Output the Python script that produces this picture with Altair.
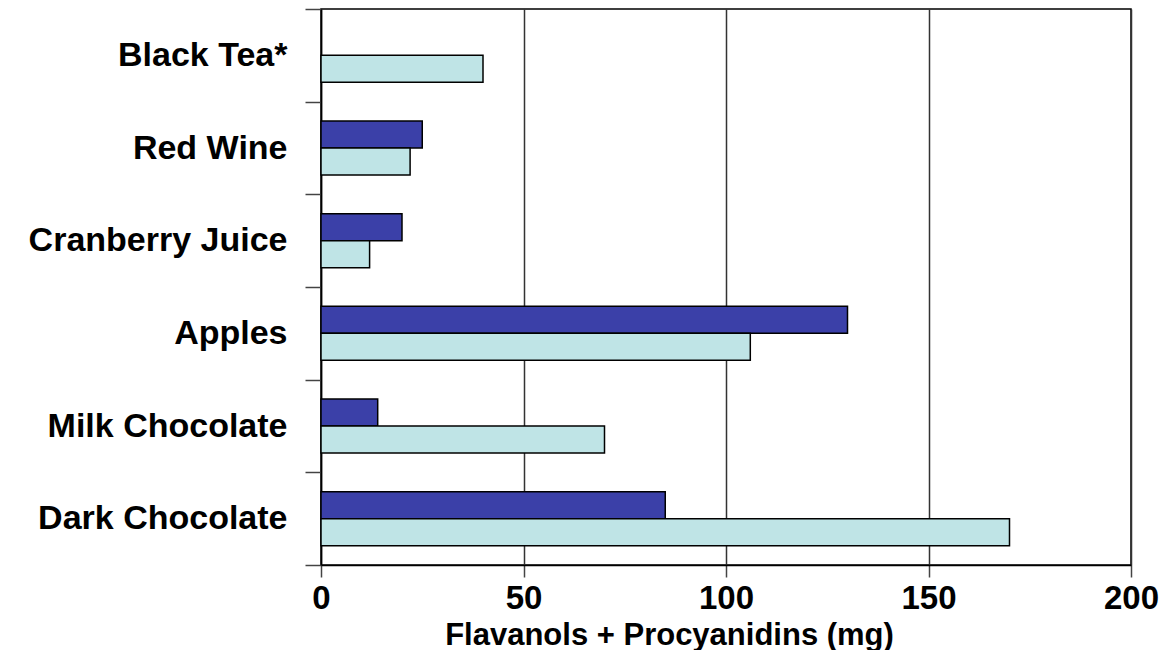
import altair as alt
import pandas as pd

foods = ["Black Tea*", "Red Wine", "Cranberry Juice", "Apples", "Milk Chocolate", "Dark Chocolate"]
series_names = ["Series 1", "Series 2"]
series_1 = [None, 25, 20, 130, 14, 85]
series_2 = [40, 22, 12, 106, 70, 170]
x_ticks = [0, 50, 100, 150, 200]

rows = []
for f, a, b in zip(foods, series_1, series_2):
    if a is not None:
        rows.append({"food": f, "series": series_names[0], "value": a})
    if b is not None:
        rows.append({"food": f, "series": series_names[1], "value": b})
df = pd.DataFrame(rows)

FONT = "Liberation Sans"
W, H = 810, 556

chart = alt.Chart(df).mark_bar(stroke="black", strokeWidth=1.5).encode(
    y=alt.Y(
        "food:N",
        sort=foods,
        scale=alt.Scale(paddingInner=0, paddingOuter=0),
        axis=alt.Axis(
            title=None,
            tickBand="extent",
            tickSize=16,
            tickColor="#444",
            tickWidth=1.5,
            labelPadding=18,
            labelFontSize=34,
            labelFont=FONT,
            labelFontWeight="bold",
            labelColor="black",
            labelLimit=400,
            domainColor="black",
            domainWidth=1.5,
            grid=False,
        ),
    ),
    x=alt.X(
        "value:Q",
        scale=alt.Scale(domain=[0, 200], nice=False),
        axis=alt.Axis(
            values=x_ticks,
            title="Flavanols + Procyanidins (mg)",
            titleFont=FONT,
            titleFontSize=31,
            titleFontWeight="bold",
            titleColor="black",
            titleX=348,
            titleY=79,
            titleAlign="center",
            titleBaseline="alphabetic",
            labelFont=FONT,
            labelFontSize=33,
            labelFontWeight="bold",
            labelColor="black",
            labelPadding=5,
            labelFlush=False,
            tickSize=12,
            tickColor="#444",
            tickWidth=1.5,
            domainColor="black",
            domainWidth=1.5,
            grid=True,
            gridColor="#333",
            gridWidth=1.5,
        ),
    ),
    yOffset=alt.YOffset(
        "series:N",
        sort=series_names,
        scale=alt.Scale(paddingInner=0, paddingOuter=0.716),
    ),
    color=alt.Color(
        "series:N",
        scale=alt.Scale(domain=series_names, range=["#3b40a8", "#bfe4e6"]),
        legend=None,
    ),
).properties(
    width=W,
    height=H,
    autosize=alt.AutoSizeParams(type="none"),
    padding={"left": 313, "top": 1, "right": 28, "bottom": 85},
).configure_view(stroke="black", strokeWidth=1.5)

chart.save("out.html", embed_options={"renderer": "svg", "actions": False})
